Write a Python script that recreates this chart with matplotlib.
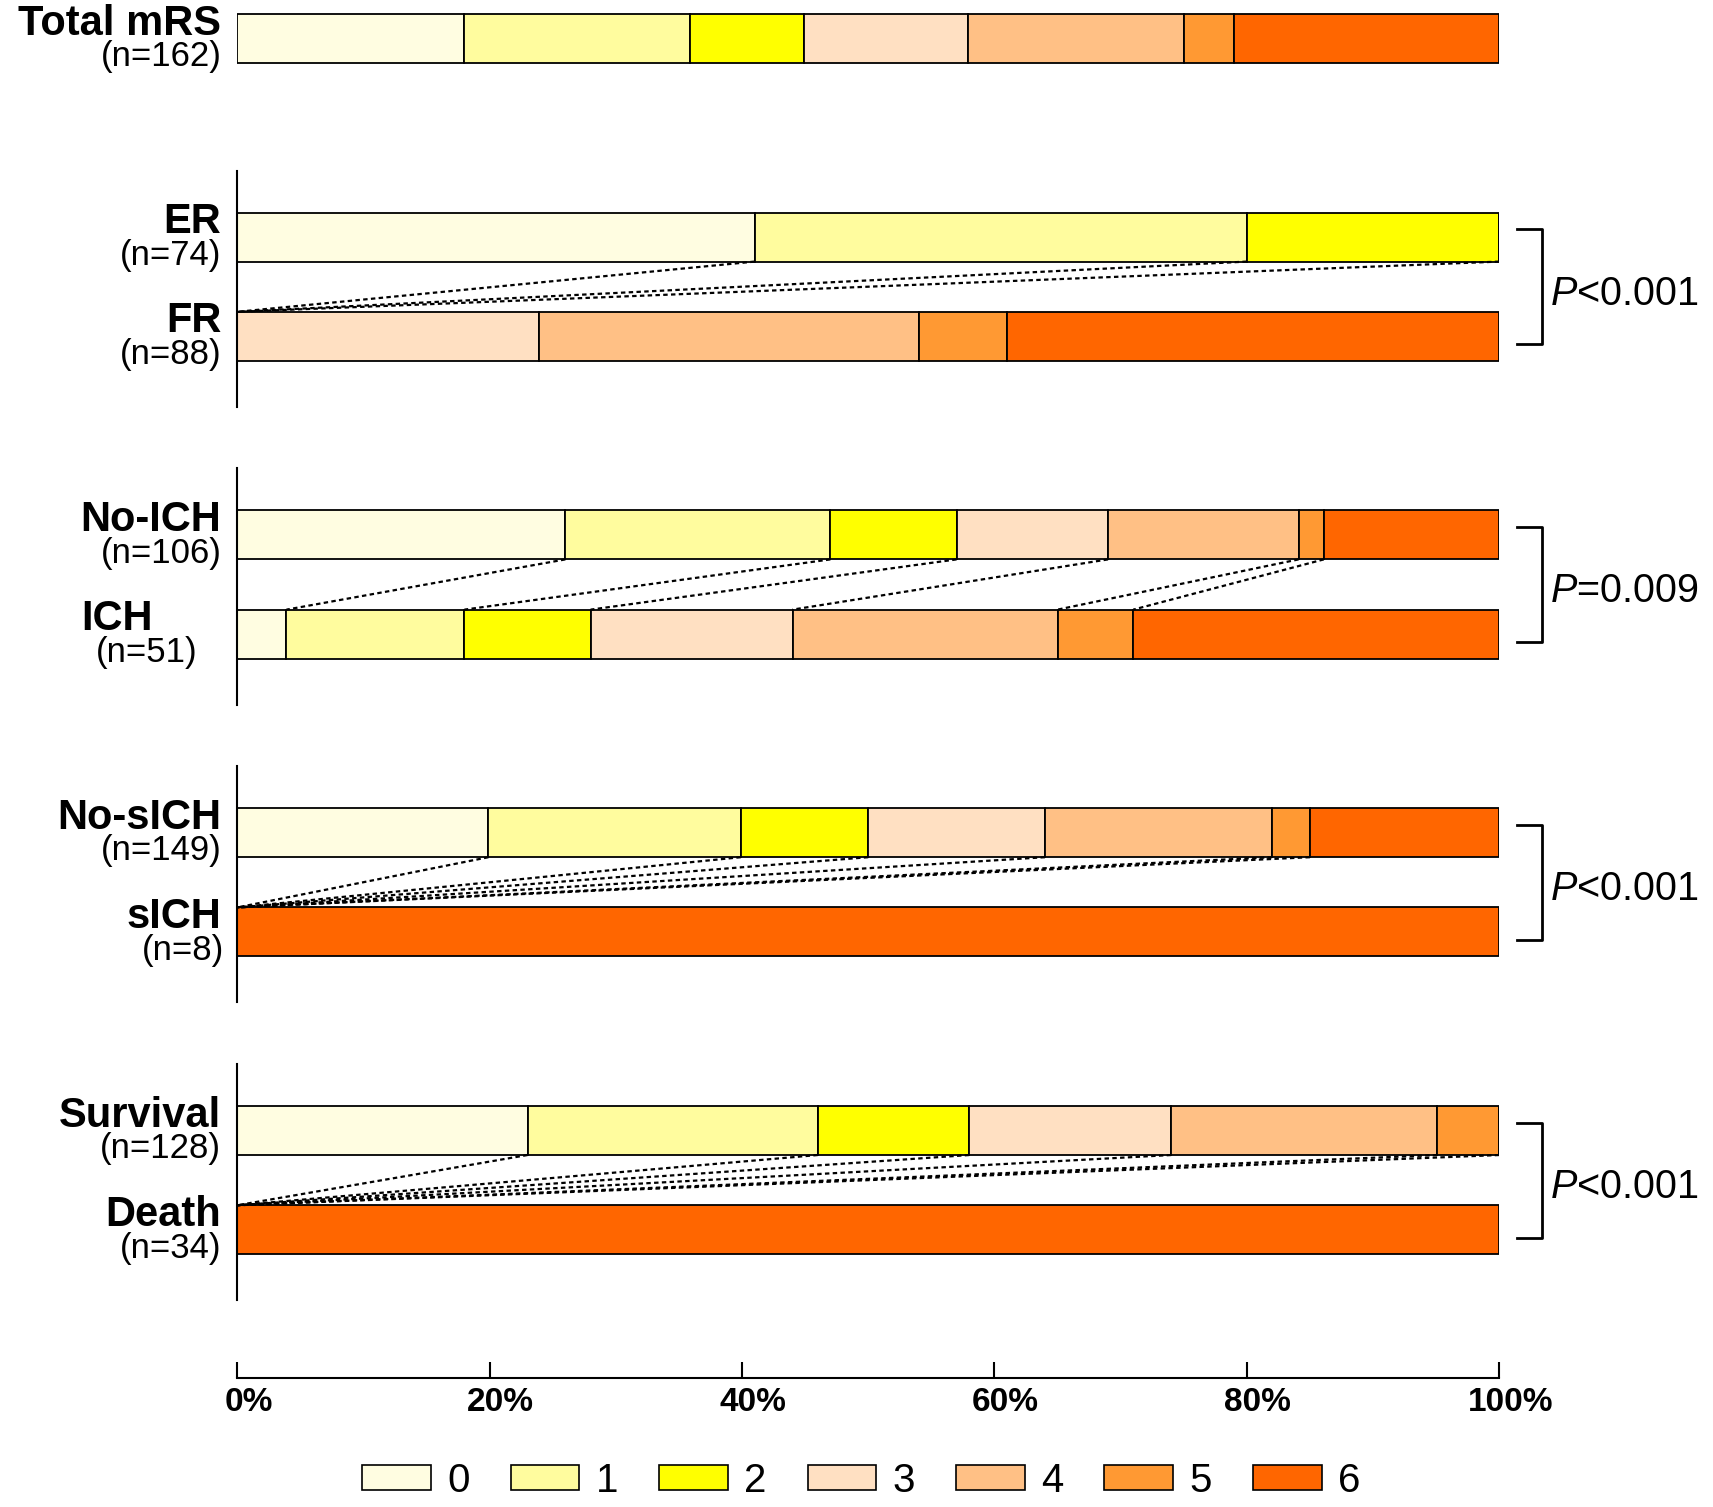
import numpy as np
import matplotlib
matplotlib.use('Agg')
import matplotlib.pyplot as plt
import matplotlib.transforms as mtransforms
from matplotlib.patches import Patch

plt.rcParams['font.family'] = ['Liberation Sans', 'DejaVu Sans']
plt.rcParams['mathtext.fontset'] = 'custom'
plt.rcParams['mathtext.it'] = 'Liberation Sans:italic'
plt.rcParams['mathtext.rm'] = 'Liberation Sans'

# 各组名称和样本量
names = ['Total mRS', 'ER', 'FR', 'No-ICH', 'ICH', 'No-sICH', 'sICH', 'Survival', 'Death']
ns = ['(n=162)', '(n=74)', '(n=88)', '(n=106)', '(n=51)', '(n=149)', '(n=8)', '(n=128)', '(n=34)']
rows = [0, 2, 3, 5, 6, 8, 9, 11, 12]

# mRS 各等级百分比
mrs0 = [18.0, 41.0, 0, 26.0, 3.9, 19.9, 0, 23.0, 0]
mrs1 = [17.9, 39.0, 0, 21.0, 14.1, 20.0, 0, 23.0, 0]
mrs2 = [9.0, 20.0, 0, 10.0, 10.0, 10.1, 0, 12.0, 0]
mrs3 = [13.0, 0, 23.9, 12.0, 16.0, 14.0, 0, 16.0, 0]
mrs4 = [17.1, 0, 30.1, 15.1, 21.0, 18.0, 0, 21.1, 0]
mrs5 = [4.0, 0, 7.0, 2.0, 6.0, 3.0, 0, 4.9, 0]
mrs6 = [21.0, 0, 39.0, 13.9, 29.0, 15.0, 100, 0, 100]

levels = ['0', '1', '2', '3', '4', '5', '6']
colors = ['#FFFDE1', '#FFFC9E', '#FFFF00', '#FFE0C2', '#FFC085', '#FF9933', '#FF6600']

# 比较组及P值
pairs = [(1, 2), (3, 4), (5, 6), (7, 8)]
pvals = ['$P$<0.001', '$P$=0.009', '$P$<0.001', '$P$<0.001']

data = np.array([mrs0, mrs1, mrs2, mrs3, mrs4, mrs5, mrs6])
cum = np.cumsum(data, axis=0)
h = 0.494

fig = plt.figure(figsize=(17.13, 15.07), dpi=100)
ax = fig.add_axes([0.1385, 0.0858, 0.7367, 0.9142])

# 堆叠条形图
left = np.zeros(len(names))
for i in range(7):
    ax.barh(rows, data[i], left=left, height=h, color=colors[i],
            edgecolor='black', linewidth=1.3)
    left = left + data[i]

# 虚线连接
for u, l in pairs:
    for i in range(6):
        if data[i][u] > 0:
            ax.plot([cum[i][u], cum[i][l]], [rows[u] + h / 2, rows[l] - h / 2],
                    color='black', linestyle=(0, (2, 1.5)), linewidth=1.6)

# 每组左侧竖线
for u, l in pairs:
    ax.plot([0, 0], [rows[u] - 0.67, rows[l] + 0.71], color='black',
            linewidth=1.5, clip_on=False)

# 右侧括号和P值
for (u, l), p in zip(pairs, pvals):
    y1 = rows[u] - 0.079
    y2 = rows[l] + 0.079
    ax.plot([101.4, 103.4, 103.4, 101.4], [y1, y1, y2, y2], color='black',
            linewidth=2, clip_on=False)
    ax.text(104.0, (rows[u] + rows[l]) / 2 + 0.18, p, fontsize=28.5,
            va='baseline', ha='left', clip_on=False)

# 组名标签
xoff = {'ICH': -49}
noff = {'ICH': -17, 'sICH': 2.4}
for r, nm, n in zip(rows, names, ns):
    ax.annotate(nm, xy=(0, r - 0.04), xytext=(-11.5 + xoff.get(nm, 0), 0),
                textcoords='offset points', ha='right', va='baseline',
                fontsize=30, fontweight='bold', annotation_clip=False)
    ax.annotate(n, xy=(0, r + 0.28), xytext=(-11.5 + noff.get(nm, 0), 0),
                textcoords='offset points', ha='right', va='baseline',
                fontsize=25, annotation_clip=False)

ax.set_xlim(0, 100)
ax.set_ylim(13.49, -0.388)
for s in ['left', 'right', 'top']:
    ax.spines[s].set_visible(False)
ax.spines['bottom'].set_linewidth(1.5)
ax.set_yticks([])
ax.set_xticks([0, 20, 40, 60, 80, 100])
ax.set_xticklabels(['0%', '20%', '40%', '60%', '80%', '100%'],
                   fontsize=24, fontweight='bold')
ax.tick_params(axis='x', direction='in', length=11.5, width=1.5, pad=7)
offset = mtransforms.ScaledTranslation(8 / 72, 0, fig.dpi_scale_trans)
for lab in ax.get_xticklabels():
    lab.set_transform(lab.get_transform() + offset)

# 图例
handles = [Patch(facecolor=c, edgecolor='black', linewidth=1.2) for c in colors]
fig.legend(handles, levels, loc='center', bbox_to_anchor=(0.5027, 0.0173),
           ncol=7, frameon=False, fontsize=29, handlelength=1.71,
           handleheight=0.57, handletextpad=0.4, columnspacing=1.02,
           borderpad=0, borderaxespad=0)

fig.savefig('out.png', dpi=100, facecolor='white')
